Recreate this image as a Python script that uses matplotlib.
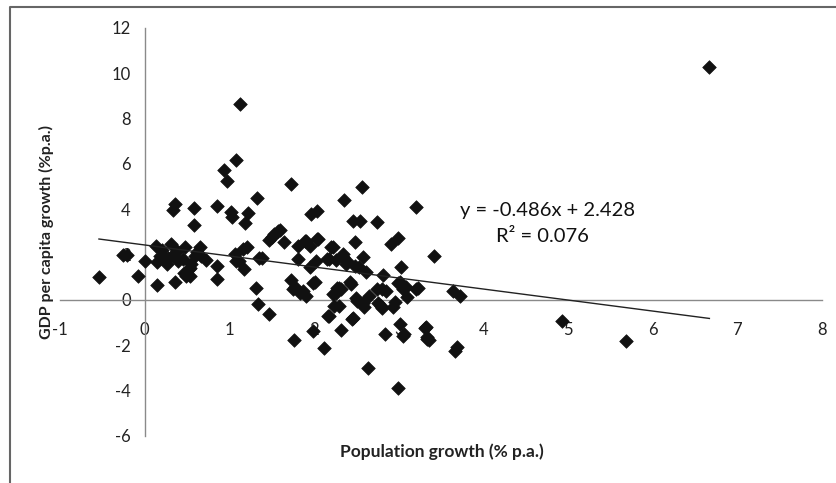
import matplotlib
matplotlib.use("Agg")
import matplotlib.pyplot as plt
from matplotlib.lines import Line2D

plt.rcParams['font.family'] = ['Lato', 'DejaVu Sans']

# Data (population growth % p.a., GDP per capita growth % p.a.)
pop_growth = [
    -0.54, -0.25, -0.21, -0.08, 0.00, 0.13, 0.15, 0.14, 0.23, 0.26, 0.31, 0.33, 0.36, 0.34, 0.36,
    0.39, 0.38, 0.48, 0.52, 0.53, 0.55, 0.58, 0.58, 0.59, 0.65, 0.67, 0.72, 0.86, 0.86, 0.86,
    0.94, 0.97, 1.02, 1.03, 1.07, 1.08, 1.13, 1.11, 1.17, 1.19, 1.22, 1.21, 1.33, 1.31, 1.34,
    1.38, 1.47, 1.47, 1.53, 1.60, 1.65, 1.73, 1.73, 1.76, 1.77, 1.81, 1.81, 1.87, 1.90, 1.91,
    1.95, 1.97, 1.99, 2.01, 2.02, 2.04, 2.05, 2.12, 2.18, 2.18, 2.22, 2.24, 2.26, 2.29, 2.32,
    2.34, 2.36, 2.39, 2.43, 2.45, 2.46, 2.48, 2.51, 2.53, 2.54, 2.57, 2.58, 2.59, 2.61, 2.64,
    2.65, 2.74, 2.74, 2.79, 2.81, 2.84, 2.85, 2.91, 2.93, 2.96, 2.99, 2.99, 3.02, 3.02, 3.03,
    3.06, 3.09, 3.10, 3.20, 3.23, 3.32, 3.34, 3.36, 3.42, 3.64, 3.66, 3.69, 3.73, 4.93, 5.68,
    6.67,
    0.20, 0.28, 0.18, 0.45, 0.47, 0.62, 1.50, 1.57, 1.89, 1.95, 2.03, 2.20, 2.34, 1.16, 1.08,
    1.35, 2.15, 2.26, 2.38, 2.48, 2.32, 2.50, 2.58, 2.76, 2.80, 2.46, 2.30, 3.05, 3.31, 3.33,
    1.83, 1.75, 1.99, 2.27, 2.22, 2.17, 2.80, 2.99, 3.05, 3.21, 2.44, 0.49, 0.53,
]
gdp_growth = [
    1.00, 2.00, 2.00, 1.07, 1.70, 2.37, 0.68, 1.66, 1.90, 1.60, 2.47, 2.00, 4.24, 3.95, 0.78,
    1.74, 2.18, 2.33, 1.37, 1.07, 1.60, 4.06, 3.31, 1.96, 2.33, 1.96, 1.77, 4.15, 1.52, 0.93,
    5.74, 5.27, 3.87, 3.65, 2.03, 6.16, 8.63, 1.74, 1.37, 3.39, 3.83, 2.33, 4.49, 0.53, -0.18,
    1.86, 2.65, -0.62, 2.92, 3.09, 2.55, 5.10, 0.88, -1.77, 0.56, 1.81, 2.40, 0.38, 2.62, 0.19,
    1.44, 3.80, -1.35, 0.78, 1.71, 3.92, 2.70, -2.12, -0.69, 1.81, 2.36, -0.25, 0.29, 0.53, -1.33,
    1.89, 4.42, 1.74, 0.81, -0.84, 3.48, 2.55, -0.03, 1.44, 3.48, 5.00, 1.89, -0.32, 1.22, -2.98,
    0.19, 3.43, 0.49, -0.25, 1.10, -1.50, 0.41, 2.47, -0.32, -0.10, 2.74, -3.89, 0.78, -1.06, 1.44,
    -1.50, 0.56, 0.15, 4.12, 0.53, -1.21, -1.65, -1.77, 1.96, 0.41, -2.24, -2.09, 0.19, -0.91, -1.83,
    10.28,
    2.20, 1.85, 1.95, 1.80, 1.20, 2.10, 2.80, 3.05, 2.60, 2.38, 2.68, 2.33, 2.02, 2.25, 1.72,
    1.85, 1.81, 1.76, 1.58, 1.50, 0.48, 0.10, -0.12, -0.12, -0.34, -0.78, -0.26, -1.59, -1.22, -1.73,
    0.32, 0.48, 0.76, 0.54, 0.26, -0.70, 0.48, 0.76, 0.48, 0.48, 0.72, 1.06, 1.42,
]

trend_slope = -0.486
trend_intercept = 2.428
r_squared = 0.076

x_ticks = [-1, 0, 1, 2, 3, 4, 5, 6, 7, 8]
y_ticks = [-6, -4, -2, 0, 2, 4, 6, 8, 10, 12]

fig = plt.figure(figsize=(8.37, 4.83), dpi=100)
ax = fig.add_axes([60 / 837, 1 - 436 / 483, (822 - 60) / 837, (436 - 28) / 483])

ax.scatter(pop_growth, gdp_growth, marker='D', s=48, color='#111111',
           edgecolors='#111111', linewidths=0.5, zorder=3)

xmin, xmax = min(pop_growth), max(pop_growth)
ax.plot([xmin, xmax], [trend_slope * xmin + trend_intercept, trend_slope * xmax + trend_intercept],
        color='#222222', linewidth=1.0, zorder=4)

ax.set_xlim(-1, 8)
ax.set_ylim(-6, 12)
ax.set_xticks(x_ticks)
ax.set_yticks(y_ticks)
ax.set_xticklabels([str(t) for t in x_ticks])
ax.set_yticklabels([str(t) for t in y_ticks])

for s in ['top', 'right']:
    ax.spines[s].set_visible(False)
ax.spines['left'].set_position(('data', 0))
ax.spines['bottom'].set_position(('data', 0))
for s in ['left', 'bottom']:
    ax.spines[s].set_color('#8a8a8a')
    ax.spines[s].set_linewidth(1.0)
ax.tick_params(axis='x', length=0, pad=16, labelsize=12, colors='#222222')
ax.tick_params(axis='y', length=0, pad=10, labelsize=12, colors='#222222')
ax.patch.set_alpha(0)

ax.text(4.76, 3.96, f"y = {trend_slope}x + {trend_intercept}", fontsize=14.5,
        ha='center', va='center', color='#111111')
ax.text(4.70, 2.78, f"R\u00b2 = {r_squared}", fontsize=14.5,
        ha='center', va='center', color='#111111')

fig.text(46 / 837, 1 - 232 / 483, "GDP per capita growth (%p.a.)", rotation=90,
         ha='center', va='center', fontsize=11.5, fontweight='bold', color='#222222')
fig.text(442 / 837, 1 - 452 / 483, "Population growth (% p.a.)",
         ha='center', va='center', fontsize=12.5, fontweight='bold', color='#222222')

# chart-area frame
fig.add_artist(Line2D([10 / 837, 10 / 837, 1.0], [0.0, 1 - 7 / 483, 1 - 7 / 483],
                      transform=fig.transFigure, color='#666666', linewidth=1.5))

fig.savefig("out.png", dpi=100)
